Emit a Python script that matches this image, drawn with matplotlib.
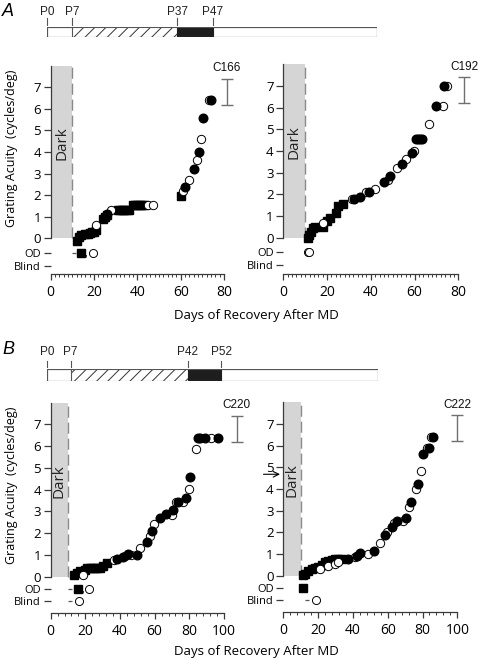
import matplotlib
matplotlib.use('Agg')
import matplotlib.pyplot as plt
from matplotlib.patches import Rectangle

# ---------------- data ----------------
# rearing timelines (postnatal day)
tl_a_labels = ['P0', 'P7', 'P37', 'P47']
tl_a_days = [0, 7, 37, 47]
tl_a_end = 93.7
tl_b_labels = ['P0', 'P7', 'P42', 'P52']
tl_b_days = [0, 7, 42, 52]
tl_b_end = 98.6

dark_days = 10
ytick_vals = [0, 1, 2, 3, 4, 5, 6, 7]

# C166
c166_sq_x = [12, 13, 14, 16, 17, 18, 19, 20, 21, 24, 25, 26, 31, 32, 33, 34, 35, 36, 38, 39, 40, 41, 42, 43, 60]
c166_sq_y = [-0.1, 0.05, 0.15, 0.2, 0.22, 0.25, 0.28, 0.3, 0.38, 0.88, 1.0, 1.08,
             1.31, 1.31, 1.31, 1.31, 1.31, 1.31, 1.56, 1.56, 1.56, 1.56, 1.56, 1.56, 1.98]
c166_op_x = [21, 28, 45, 47, 61, 64, 67.4, 69.2, 73]
c166_op_y = [0.63, 1.31, 1.56, 1.56, 2.2, 2.7, 3.62, 4.6, 6.4]
c166_cl_x = [26.2, 62.2, 66.2, 68.3, 70.2, 74.2]
c166_cl_y = [1.12, 2.38, 3.2, 4.02, 5.6, 6.4]
c166_od_sq = [14]
c166_od_op = [19.7]
c166_blind_op = []
c166_dash = {'od': [10.8], 'blind': []}
c166_comma = [16.3]

# C192
c192_sq_x = [11.1, 11.9, 12.5, 13.4, 14.5, 18.3, 20.2, 21.3, 24.2, 25.1, 27.4]
c192_sq_y = [0.0, 0.12, 0.28, 0.43, 0.5, 0.5, 0.75, 0.9, 1.16, 1.47, 1.58]
c192_op_x = [18.3, 31.3, 37.8, 41.9, 48, 51.8, 56, 59.9, 66.8, 72.9, 75]
c192_op_y = [0.68, 1.78, 2.12, 2.25, 2.66, 3.2, 3.63, 4.02, 5.25, 6.08, 7.0]
c192_cl_x = [32.3, 35, 39, 46, 49, 54.1, 58.7, 60.7, 61.6, 62.5, 63.3, 69.8, 73.6]
c192_cl_y = [1.78, 1.86, 2.1, 2.55, 2.86, 3.4, 3.9, 4.58, 4.58, 4.58, 4.58, 6.08, 7.0]
c192_od_sq = []
c192_od_op = [11.1, 11.9]
c192_blind_op = []
c192_dash = {'od': [], 'blind': []}
c192_comma = []

# C220
c220_sq_x = [13.6, 15.0, 16.9, 19.8, 21, 22.5, 24, 25.5, 27, 28.5, 30.4, 32.3]
c220_sq_y = [0.08, 0.18, 0.26, 0.31, 0.42, 0.42, 0.42, 0.42, 0.42, 0.42, 0.47, 0.62]
c220_op_x = [18.5, 36.7, 42.9, 46.3, 51.5, 57.5, 59.4, 69.8, 72.3, 76.5, 79.6, 83.7, 92.5]
c220_op_y = [0.08, 0.77, 0.95, 1.0, 1.3, 1.86, 2.4, 2.83, 3.41, 3.41, 4.01, 5.87, 6.36]
c220_cl_x = [38.1, 41.5, 44.4, 49.6, 55.4, 58.5, 62.9, 66.5, 70.4, 73.7, 77.9, 80.4, 84.8, 86.2, 89, 96.3]
c220_cl_y = [0.8, 0.89, 1.05, 1.0, 1.57, 2.1, 2.7, 2.87, 3.06, 3.41, 3.6, 4.59, 6.36, 6.36, 6.36, 6.36]
c220_od_sq = [15.6]
c220_od_op = [22.1]
c220_blind_op = [16.3]
c220_dash = {'od': [11.1], 'blind': [11.1]}
c220_comma = [18.8]

# C222
c222_sq_x = [11.5, 12.5, 14.4, 16.3, 18.2, 20.1, 22, 23.9, 25.9, 27.8, 29.7, 31.6, 33.5]
c222_sq_y = [0.03, 0.1, 0.2, 0.3, 0.37, 0.42, 0.49, 0.62, 0.68, 0.72, 0.77, 0.77, 0.77]
c222_op_x = [21.1, 25.9, 29.7, 31.6, 41.2, 48.5, 55.6, 59.4, 63.6, 68.9, 72.2, 76.2, 79.1, 82.4, 84.7]
c222_op_y = [0.31, 0.45, 0.52, 0.62, 0.85, 1.0, 1.49, 2.0, 2.42, 2.52, 3.18, 4.0, 4.83, 5.88, 6.38]
c222_cl_x = [37.4, 42.2, 44.1, 52.3, 58.4, 62.5, 65.1, 70.3, 73.4, 77.2, 80.1, 83.9, 86.2]
c222_cl_y = [0.75, 0.9, 1.03, 1.15, 1.9, 2.26, 2.52, 2.68, 3.42, 4.22, 5.6, 5.88, 6.38]
c222_od_sq = [11.5]
c222_od_op = []
c222_blind_op = [18.6]
c222_dash = {'od': [], 'blind': [13.4]}
c222_comma = []
c222_arrow_y = 4.68

# normal-acuity range bars
norm_lo = 6.2
norm_hi = 7.4

# ---------------- style ----------------
FONT = ['Open Sans', 'DejaVu Sans']
ARIAL = ['Liberation Sans', 'DejaVu Sans']
plt.rcParams['font.family'] = FONT
plt.rcParams['hatch.linewidth'] = 0.7
SPINE = '#3a3a3a'

fig = plt.figure(figsize=(4.78, 6.59), dpi=100)


def timeline(rect, days, labels, end, tick_lo, tick_hi, lab_y):
    ax = fig.add_axes(rect)
    ax.set_xlim(0, end)
    ax.set_ylim(0, 1)
    ax.axis('off')
    ax.add_patch(Rectangle((0, 0), end, 1, facecolor='white', edgecolor='#555555', lw=0.8))
    ax.add_patch(Rectangle((days[1], 0), days[2] - days[1], 1, facecolor='white',
                           edgecolor='#333333', hatch='///', lw=0))
    ax.add_patch(Rectangle((days[2], 0), days[3] - days[2], 1, facecolor='#1e1e1e',
                           edgecolor='#1e1e1e', lw=0.8))
    ax.add_patch(Rectangle((0, 0), end, 1, facecolor='none', edgecolor='#555555', lw=0.8))
    ax.plot([days[1], days[1]], [0, 1], color='#555555', lw=0.8)
    for d, lab in zip(days, labels):
        ax.plot([d, d], [tick_lo, tick_hi], color='#555555', lw=0.8, clip_on=False)
        ax.text(d, lab_y, lab, ha='center', va='center', fontsize=8.5, family=ARIAL,
                color='#222222', clip_on=False)
    return ax


def panel(rect, xmax_axis, xmax, minor, sq, op, cl, od_sq, od_op, blind_op, dash, comma,
          od_lvl, blind_lvl, errx, name, ylabel=False, arrow_y=None):
    ax = fig.add_axes(rect)
    ax.set_xlim(0, xmax_axis)
    ax.set_ylim(-1.65, 8)
    for s in ['top', 'right']:
        ax.spines[s].set_visible(False)
    ax.spines['left'].set_bounds(0, 8)
    ax.spines['bottom'].set_bounds(0, xmax)
    for s in ['left', 'bottom']:
        ax.spines[s].set_color(SPINE)
        ax.spines[s].set_linewidth(0.9)
    # dark-rearing shading
    ax.add_patch(Rectangle((0, 0), dark_days, 8, facecolor='#d5d5d5', edgecolor='none', zorder=0))
    ax.plot([dark_days, dark_days], [0, 8], color='#8a8a8a', lw=1.0, dashes=(8, 3.5), zorder=1)
    ax.text(dark_days / 2, 4.4, 'Dark', rotation=90, ha='center', va='center',
            fontsize=11, color='#222222')
    # data
    ax.plot(sq[0], sq[1], 's', ms=5.6, color='black', mec='black', zorder=3, clip_on=False)
    ax.plot(op[0], op[1], 'o', ms=6.0, mfc='white', mec='black', mew=0.7, zorder=4)
    ax.plot(cl[0], cl[1], 'o', ms=6.2, color='black', zorder=5)
    ax.plot(od_sq, [od_lvl] * len(od_sq), 's', ms=5.6, color='black', clip_on=False)
    ax.plot(od_op, [od_lvl] * len(od_op), 'o', ms=5.8, mfc='white', mec='black', mew=0.7, clip_on=False)
    ax.plot(blind_op, [blind_lvl] * len(blind_op), 'o', ms=5.8, mfc='white', mec='black',
            mew=0.7, clip_on=False)
    ax.plot(dash['od'], [od_lvl] * len(dash['od']), '_', ms=3.5, color='#555555', mew=0.9)
    ax.plot(dash['blind'], [blind_lvl] * len(dash['blind']), '_', ms=3.5, color='#555555', mew=0.9)
    for cx in comma:
        ax.text(cx, od_lvl - 0.08, ',', ha='center', va='center', fontsize=8)
    # normal range bar
    ax.errorbar([errx], [(norm_lo + norm_hi) / 2], yerr=[(norm_hi - norm_lo) / 2], fmt='none',
                ecolor='#707070', elinewidth=1.0, capsize=4, capthick=1.0, clip_on=False)
    ax.text(errx, 7.62, name, ha='center', va='bottom', fontsize=8.5, family=ARIAL,
            color='#111111', clip_on=False)
    # ticks
    ax.set_yticks(ytick_vals + [od_lvl, blind_lvl])
    ax.set_yticklabels([str(v) for v in ytick_vals] + ['OD', 'Blind'])
    ax.tick_params(axis='y', length=5, width=0.9, color=SPINE, labelsize=9.5, pad=2)
    for lab in ax.get_yticklabels()[-2:]:
        lab.set_fontsize(8)
    ax.set_xticks([v for v in range(0, xmax + 1, 20)])
    ax.set_xticks([v for v in range(0, xmax + 1, minor)], minor=True)
    ax.tick_params(axis='x', which='major', length=4, width=0.9, color=SPINE, labelsize=10, pad=4)
    ax.tick_params(axis='x', which='minor', length=2, width=0.7, color=SPINE)
    if ylabel:
        ax.set_ylabel('Grating Acuity  (cycles/deg)', fontsize=9, va='center')
        ax.yaxis.set_label_coords(-0.2, 0.605)
    if arrow_y is not None:
        ax.annotate('', xy=(-0.3, arrow_y), xytext=(-13, arrow_y),
                    arrowprops=dict(arrowstyle='->', color='black', lw=0.8),
                    annotation_clip=False)
    return ax


W, H = 478.0, 659.0

timeline([47.3 / W, 1 - 36.7 / H, 93.7 * 3.517 / W, 10 / H], tl_a_days, tl_a_labels, tl_a_end,
         1.17, 1.84, 2.5)
timeline([47.3 / W, 1 - 380.7 / H, 98.6 * 3.35 / W, 11.4 / H], tl_b_days, tl_b_labels, tl_b_end,
         1.23, 1.75, 2.55)

fig.text(8 / W, 1 - 11 / H, 'A', fontsize=13, style='italic', family=ARIAL, ha='center', va='center')
fig.text(8 / W, 1 - 349 / H, 'B', fontsize=13, style='italic', family=ARIAL, ha='center', va='center')

panel([50.7 / W, 1 - 274 / H, 195 / W, 208.3 / H], 90, 80, 2,
      (c166_sq_x, c166_sq_y), (c166_op_x, c166_op_y), (c166_cl_x, c166_cl_y),
      c166_od_sq, c166_od_op, c166_blind_op, c166_dash, c166_comma,
      -0.68, -1.27, 81.3, 'C166', ylabel=True)
panel([283.3 / W, 1 - 273.5 / H, 192.5 / W, 209.1 / H], 88, 80, 2,
      (c192_sq_x, c192_sq_y), (c192_op_x, c192_op_y), (c192_cl_x, c192_cl_y),
      c192_od_sq, c192_od_op, c192_blind_op, c192_dash, c192_comma,
      -0.68, -1.27, 82.6, 'C192')
panel([50.7 / W, 1 - 612.6 / H, 194.1 / W, 210.1 / H], 112, 100, 4,
      (c220_sq_x, c220_sq_y), (c220_op_x, c220_op_y), (c220_cl_x, c220_cl_y),
      c220_od_sq, c220_od_op, c220_blind_op, c220_dash, c220_comma,
      -0.55, -1.13, 107.3, 'C220', ylabel=True)
panel([283.3 / W, 1 - 611.5 / H, 191.4 / W, 209.2 / H], 110, 100, 4,
      (c222_sq_x, c222_sq_y), (c222_op_x, c222_op_y), (c222_cl_x, c222_cl_y),
      c222_od_sq, c222_od_op, c222_blind_op, c222_dash, c222_comma,
      -0.55, -1.13, 100, 'C222', arrow_y=c222_arrow_y)

fig.text(256 / W, 1 - 316 / H, 'Days of Recovery After MD', ha='center', va='center', fontsize=9.5)
fig.text(256 / W, 1 - 651 / H, 'Days of Recovery After MD', ha='center', va='center', fontsize=9.5)

fig.savefig('out.png', dpi=100)
